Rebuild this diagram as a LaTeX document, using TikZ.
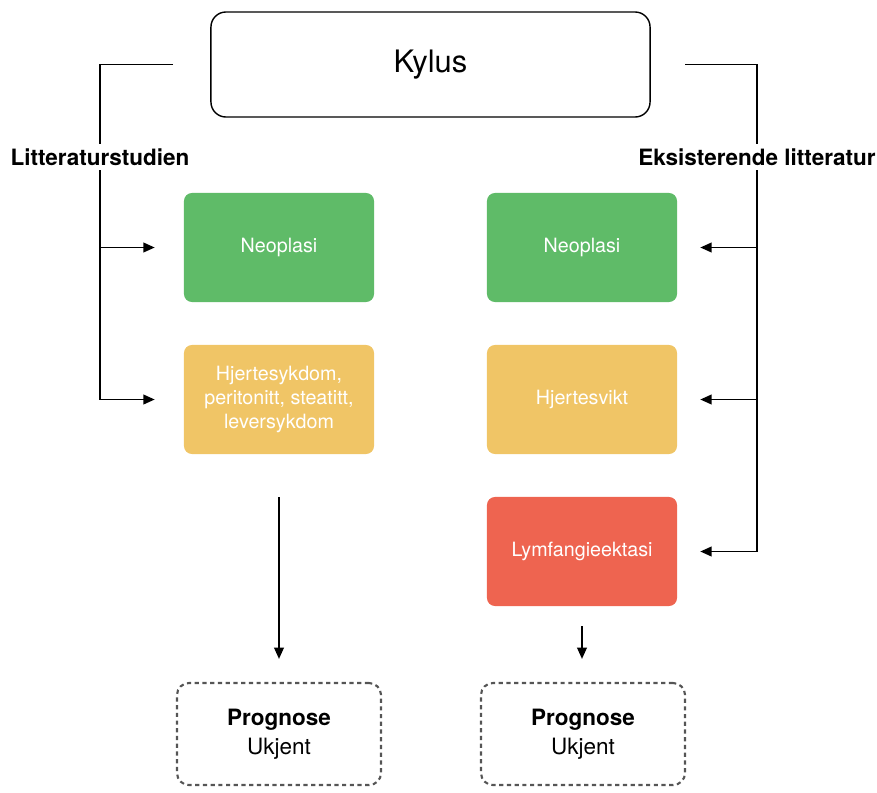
\documentclass[tikz,border=0pt]{standalone}
\usepackage{fontspec}
\setmainfont{TeX Gyre Heros}
\usetikzlibrary{arrows.meta}
\definecolor{neogreen}{HTML}{5FBB68}
\definecolor{heartyellow}{HTML}{F0C566}
\definecolor{lymphred}{HTML}{EE6450}
\definecolor{dashgray}{HTML}{555555}
\begin{document}
\begin{tikzpicture}[x=0.025cm,y=-0.025cm,
  box/.style={rounded corners=0.2cm,minimum width=4.75cm,minimum height=2.725cm,
    text=white,align=center,font=\fontsize{14}{17}\selectfont},
  prog/.style={draw=dashgray,line width=1.5pt,dash pattern=on 3pt off 2.5pt,
    rounded corners=0.3cm,minimum width=5.1cm,minimum height=2.55cm,align=center,
    font=\fontsize{16}{20.5}\selectfont},
  conn/.style={line width=1.2pt},
  arr/.style={conn,-{Triangle[length=2.8mm,width=2.4mm]}},
  side/.style={font=\bfseries\fontsize{16}{19}\selectfont}]
  \useasboundingbox (0,0) rectangle (877,792);
  \node[draw,line width=1pt,rounded corners=0.375cm,minimum width=10.975cm,
    minimum height=2.625cm,font=\fontsize{22}{26}\selectfont] (kylus) at (430.5,64.5) {\raisebox{-3pt}{Kylus}};
  \coordinate (lk) at (173,64.5);
  \coordinate (rk) at (685,64.5);
  \node[side] (litt) at (100,157) {Litteraturstudien};
  \node[side] (eks) at (757,157) {Eksisterende litteratur};
  \node[box,fill=neogreen] (ln) at (279,247.5) {Neoplasi};
  \node[box,fill=heartyellow] (hs) at (279,399.5) {Hjertesykdom,\\peritonitt, steatitt,\\leversykdom};
  \node[box,fill=neogreen] (rn) at (582,247.5) {Neoplasi};
  \node[box,fill=heartyellow] (hv) at (582,399.5) {Hjertesvikt};
  \node[box,fill=lymphred] (ly) at (582,551.5) {Lymfangieektasi};
  \node[prog] (lp) at (279,734) {\raisebox{-3pt}{\bfseries Prognose}\\\raisebox{-3pt}{Ukjent}};
  \node[prog] (rp) at (583,734) {\raisebox{-3pt}{\bfseries Prognose}\\\raisebox{-3pt}{Ukjent}};
  \draw[conn] (lk) -| (litt.north);
  \draw[arr,shorten >=0.725cm] (litt.south) |- (hs.west);
  \draw[arr,shorten >=0.725cm] (ln.west -| litt.south) -- (ln.west);
  \draw[conn] (rk) -| (eks.north);
  \draw[arr,shorten >=0.575cm] (eks.south) |- (ly.east);
  \draw[arr,shorten >=0.575cm] (rn.east -| eks.south) -- (rn.east);
  \draw[arr,shorten >=0.575cm] (hv.east -| eks.south) -- (hv.east);
  \draw[arr,shorten <=1.075cm,shorten >=0.575cm] (hs.south) -- (lp.north);
  \draw[arr,shorten <=0.5cm,shorten >=0.575cm] (ly.south) -- (ly.south |- rp.north);
\end{tikzpicture}
\end{document}
